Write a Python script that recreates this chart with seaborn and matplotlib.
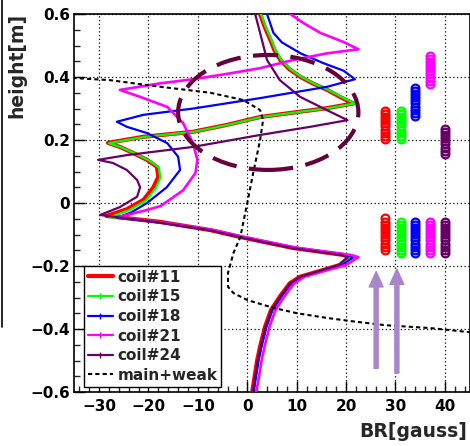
import numpy as np
import pandas as pd
import matplotlib
matplotlib.use("Agg")
import matplotlib.pyplot as plt
import seaborn as sns
from matplotlib.patches import Ellipse
from matplotlib.lines import Line2D
from matplotlib.ticker import MultipleLocator

# ---------------- data ----------------
coil_names = ["coil#11", "coil#15", "coil#18", "coil#21", "coil#24"]
coil_colors = ["#ff0000", "#00ff00", "#0000ff", "#ff00ff", "#660066"]

h_lower = [-0.60, -0.56, -0.50, -0.456, -0.393, -0.34, -0.297, -0.255, -0.234, -0.213,
           -0.197, -0.172, -0.165, -0.143, -0.108, -0.086]

h_11 = h_lower + [-0.060, -0.041, -0.020, 0.010, 0.050, 0.083, 0.115, 0.137, 0.158, 0.178,
                  0.191, 0.210, 0.226, 0.248, 0.273, 0.287, 0.301, 0.316, 0.335, 0.359,
                  0.380, 0.400, 0.425, 0.454, 0.485, 0.517, 0.560, 0.600]
br_11 = [1.0, 1.4, 2.0, 2.6, 3.6, 4.8, 6.6, 8.6, 10.7, 15.3, 18.7, 20.8, 19.5, 9.3, -1.4, -7.5,
         -17.6, -28.5, -24.4, -21.0, -19.0, -18.0, -18.3, -20.3, -23.0, -25.8,
         -28.2, -21.1, -11.0, -4.1, 2.6, 9.3, 16.1, 21.5, 19.0, 16.2,
         13.2, 10.8, 8.5, 6.7, 5.5, 4.7, 3.5, 2.6]

h_15 = h_lower + [-0.062, -0.045, -0.022, 0.008, 0.048, 0.080, 0.113, 0.136, 0.157, 0.177,
                  0.190, 0.210, 0.226, 0.248, 0.273, 0.287, 0.301, 0.316, 0.335, 0.359,
                  0.380, 0.400, 0.425, 0.454, 0.485, 0.517, 0.560, 0.600]
br_15 = [1.2, 1.6, 2.2, 2.8, 3.8, 5.0, 6.8, 8.8, 10.9, 15.5, 19.0, 21.2, 19.8, 9.5, -1.2, -7.3,
         -17.4, -27.8, -23.8, -20.5, -18.5, -17.6, -17.9, -20.0, -22.7, -25.6,
         -28.0, -20.8, -10.8, -3.9, 2.8, 9.5, 16.4, 21.8, 19.3, 16.4,
         13.4, 11.0, 8.7, 6.9, 5.7, 4.9, 3.7, 2.8]

h_18 = h_lower + [-0.064, -0.047, -0.030, 0.000, 0.050, 0.105, 0.147, 0.190, 0.222, 0.242,
                  0.258, 0.280, 0.300, 0.333, 0.369, 0.393, 0.420, 0.444, 0.475, 0.510,
                  0.540, 0.600]
br_18 = [1.3, 1.7, 2.3, 2.9, 3.9, 5.1, 6.9, 8.9, 11.0, 15.6, 19.2, 21.5, 20.0, 9.6, -1.0, -7.1,
         -16.5, -26.4, -23.5, -20.3, -16.3, -13.6, -14.0, -16.2, -20.3, -24.4,
         -26.4, -21.0, -10.9, 2.6, 16.2, 21.8, 19.5, 15.4, 10.8, 7.0, 5.3, 4.0]

h_21 = h_lower + [-0.064, -0.045, -0.025, -0.010, 0.040, 0.095, 0.137, 0.190, 0.254, 0.305,
                  0.337, 0.359, 0.380, 0.393, 0.410, 0.428, 0.454, 0.475, 0.488, 0.511,
                  0.540, 0.571, 0.600]
br_21 = [1.8, 2.3, 2.9, 3.5, 4.5, 5.7, 7.5, 9.5, 11.6, 16.3, 20.0, 22.5, 21.0, 10.2, -0.6, -6.8,
         -16.5, -26.2, -21.0, -17.6, -13.0, -10.5, -10.1, -11.0, -13.0, -16.2,
         -21.7, -25.8, -17.6, -10.9, -4.1, 2.6, 9.3, 16.1, 22.5, 19.5, 14.8, 11.4, 8.7]

h_24 = h_lower + [-0.062, -0.038, -0.013, 0.020, 0.050, 0.073, 0.105, 0.127, 0.137, 0.152,
                  0.178, 0.216, 0.242, 0.263, 0.295, 0.337, 0.390, 0.454, 0.540, 0.600]
br_24 = [1.1, 1.5, 2.1, 2.7, 3.7, 4.9, 6.7, 8.7, 10.8, 15.2, 18.5, 20.3, 19.0, 9.0, -1.6, -7.8,
         -18.0, -29.8, -25.8, -22.3, -21.7, -22.3, -24.4, -27.2, -30.2, -24.4,
         -11.0, 2.6, 12.8, 20.3, 16.1, 10.7, 6.6, 4.0, 2.6, 1.6]

h_main = [-0.42, -0.41, -0.397, -0.388, -0.375, -0.365, -0.35, -0.333, -0.308, -0.286,
          -0.266, -0.222, -0.159, -0.108, 0.0, 0.095, 0.2, 0.263, 0.295, 0.327,
          0.35, 0.369, 0.39, 0.397, 0.402]
br_main = [52, 45, 37, 28, 21, 16.2, 10.1, 5.3, 0.0, -2.8,
           -3.9, -3.9, -2.8, -1.4, 0.0, 1.2, 2.6, 3.2, 2.6, -0.8,
           -7.5, -17.6, -27.8, -35.3, -40]

# coil position markers (BR column, upper range, lower range)
mark_br = [27.9, 31.1, 34.0, 37.0, 40.1]
mark_up_lo = [0.203, 0.203, 0.276, 0.378, 0.156]
mark_up_hi = [0.298, 0.298, 0.371, 0.473, 0.244]
mark_dn_lo = [-0.149, -0.159, -0.159, -0.159, -0.159]
mark_dn_hi = [-0.048, -0.057, -0.057, -0.057, -0.057]
mark_step = 0.01

# arrows
arrow_br = [26.1, 30.3]
arrow_tip = [-0.218, -0.210]
arrow_tail = [-0.525, -0.540]

# ellipse highlight (center BR, center h, width, height)
ell_c = (4.25, 0.2875)
ell_w, ell_h = 36.5, 0.365

x_ticks = [-30, -20, -10, 0, 10, 20, 30, 40]
x_labels = ["\u221230", "\u221220", "\u221210", "0", "10", "20", "30", "40"]
y_ticks = [-0.6, -0.4, -0.2, 0.0, 0.2, 0.4, 0.6]
y_labels = ["\u22120.6", "\u22120.4", "\u22120.2", "0", "0.2", "0.4", "0.6"]

# ---------------- plot ----------------
sns.set_style("white")
plt.rcParams["font.family"] = ["DejaVu Sans"]
plt.rcParams["font.weight"] = "bold"

W, H = 470, 446
fig = plt.figure(figsize=(W / 100, H / 100), dpi=100)
ax = fig.add_axes([74.4 / W, 54 / H, (W - 74.4) / W, 378 / H])

curves = [(h_11, br_11), (h_15, br_15), (h_18, br_18), (h_21, br_21), (h_24, br_24)]
widths = [3.0, 1.6, 1.6, 1.9, 1.6]
for (hh, bb), col, lw in zip(curves, coil_colors, widths):
    df = pd.DataFrame({"BR": bb, "h": hh})
    sns.lineplot(data=df, x="BR", y="h", orient="y", estimator=None, sort=True,
                 color=col, lw=lw, ax=ax, zorder=3)

df_main = pd.DataFrame({"BR": br_main, "h": h_main})
sns.lineplot(data=df_main, x="BR", y="h", orient="y", estimator=None, color="black",
             lw=1.5, linestyle=(0, (2, 1.5)), ax=ax, zorder=3)

# marker stacks
for i, col in enumerate(coil_colors):
    for lo, hi in [(mark_up_lo[i], mark_up_hi[i]), (mark_dn_lo[i], mark_dn_hi[i])]:
        hs = np.arange(lo, hi + 1e-9, mark_step)
        dfm = pd.DataFrame({"BR": [mark_br[i]] * len(hs), "h": hs})
        sns.lineplot(data=dfm, x="BR", y="h", orient="y", estimator=None, ax=ax,
                     linestyle="none", marker="o", markersize=5.6,
                     markerfacecolor="none", markeredgecolor=col, markeredgewidth=1.6,
                     color=col, zorder=4)

# ellipse
ell = Ellipse(ell_c, ell_w, ell_h, fill=False, edgecolor="#66003d", lw=3.0,
              linestyle=(0, (6, 3)), zorder=5)
ax.add_patch(ell)

# arrows
for xb, tip, tail in zip(arrow_br, arrow_tip, arrow_tail):
    ax.annotate("", xy=(xb, tip), xytext=(xb, tail),
                arrowprops=dict(width=2.9, headwidth=10, headlength=11, shrink=0,
                                facecolor="#a985c9", edgecolor="#a985c9"), zorder=5)

ax.set_xlim(-35, 45.1)
ax.set_ylim(-0.6, 0.6)
ax.set_xticks(x_ticks)
ax.set_xticklabels(x_labels)
ax.set_yticks(y_ticks)
ax.set_yticklabels(y_labels)
ax.xaxis.set_minor_locator(MultipleLocator(2))
ax.yaxis.set_minor_locator(MultipleLocator(0.05))
ax.tick_params(which="major", direction="in", length=8, width=1, labelsize=11,
               colors="black")
ax.tick_params(axis="y", which="major", pad=3)
ax.tick_params(axis="x", which="major", pad=5)
ax.tick_params(which="minor", direction="in", length=4, width=1)
ax.tick_params(bottom=True, left=True, top=False, right=False, which="both")
for lab in ax.get_xticklabels() + ax.get_yticklabels():
    lab.set_fontweight("bold")
ax.grid(True, which="major", linestyle=(0, (1, 2)), color="black", lw=0.9)
for s in ax.spines.values():
    s.set_color("black")
    s.set_linewidth(1.2)
ax.set_xlabel("")
ax.set_ylabel("")

# legend
handles = [Line2D([], [], color=coil_colors[0], lw=3.0)]
for col in coil_colors[1:]:
    handles.append(Line2D([], [], color=col, lw=1.6, marker="|", markersize=4,
                          markeredgewidth=1))
handles.append(Line2D([], [], color="black", lw=1.5, linestyle=(0, (2, 1.5))))
labels = coil_names + ["main+weak"]
leg = ax.legend(handles, labels, loc="upper left", bbox_to_anchor=(0.0243, 0.3333),
                frameon=True, fancybox=False, edgecolor="black", framealpha=1,
                prop={"size": 11, "weight": "bold"}, handlelength=1.65,
                handletextpad=0.3, borderpad=0.25, labelspacing=0.3, borderaxespad=0)
leg.get_frame().set_linewidth(1.0)
leg.set_zorder(6)

fig.text(17 / W, 1 - 13 / H, "height[m]", rotation=90, ha="center", va="top",
         fontsize=13.5, fontweight="bold")
fig.text(467 / W, 9 / H, "BR[gauss]", ha="right", va="baseline",
         fontsize=13.5, fontweight="bold")
fig.add_artist(Line2D([1.5 / W, 1.5 / W], [1.0, 1 - 327 / H], color="black", lw=1.2))

fig.savefig("out.png", dpi=100)
